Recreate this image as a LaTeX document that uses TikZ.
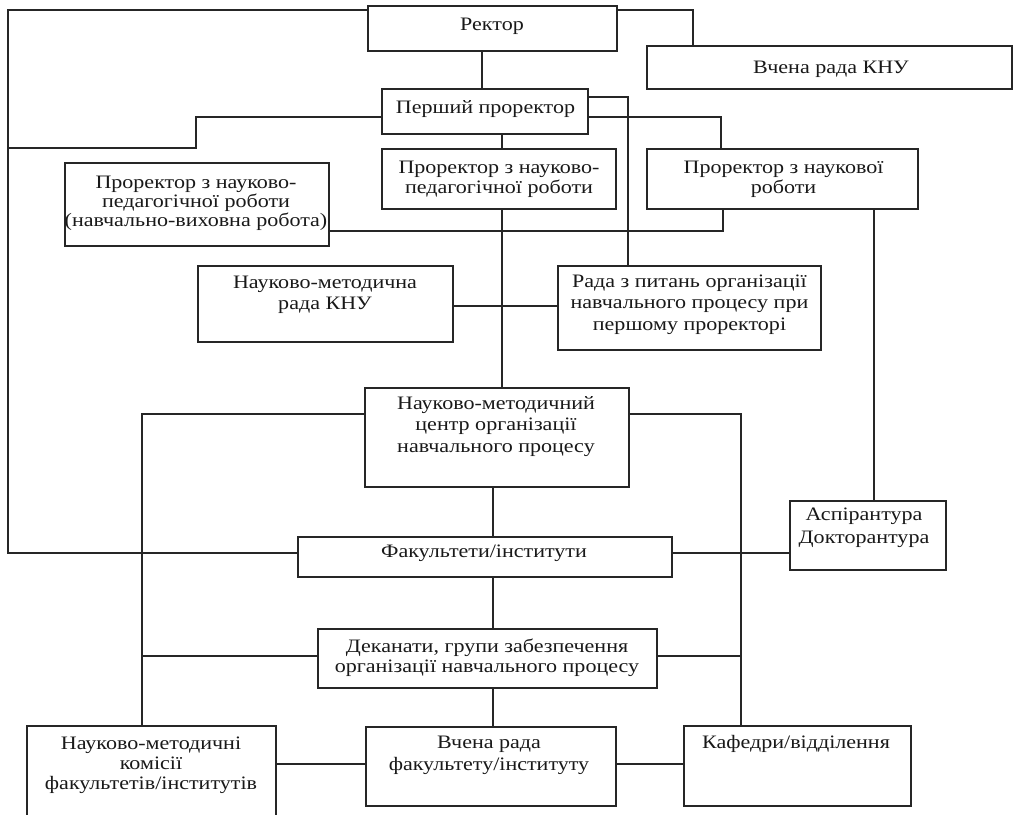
\documentclass[tikz,border=0pt]{standalone}
\usepackage{fontspec}
\setmainfont{Liberation Serif}[FakeStretch=1.16]
\begin{document}
\begin{tikzpicture}[x=1pt,y=-1pt,
  box/.style={draw=black!85, line width=1.2pt, outer sep=0pt, inner sep=0pt, anchor=north west, rectangle},
  lsp/.style={font=\fontsize{19}{#1}\selectfont},
  lsp/.default=21.5,
  txt/.style={align=center, inner sep=0pt, text=black!90, lsp},
  con/.style={draw=black!85, line width=1.2pt}]
\useasboundingbox (0,0) rectangle (1017,814);
\fill[white] (0,0) rectangle (1017,814);

% boxes
\node[box, minimum width=249pt, minimum height=45pt] (rect) at (368,6) {};
\node[box, minimum width=365pt, minimum height=43pt] (vrk) at (647,46) {};
\node[box, minimum width=206pt, minimum height=45pt] (p1) at (382,89) {};
\node[box, minimum width=234pt, minimum height=60pt] (pnp) at (382,149) {};
\node[box, minimum width=271pt, minimum height=60pt] (pn) at (647,149) {};
\node[box, minimum width=264pt, minimum height=83pt] (pl) at (65,163) {};
\node[box, minimum width=255pt, minimum height=76pt] (nmr) at (198,266) {};
\node[box, minimum width=263pt, minimum height=84pt] (rp) at (558,266) {};
\node[box, minimum width=264pt, minimum height=99pt] (nmc) at (365,388) {};
\node[box, minimum width=374pt, minimum height=40pt] (fak) at (298,537) {};
\node[box, minimum width=156pt, minimum height=69pt] (asp) at (790,501) {};
\node[box, minimum width=339pt, minimum height=59pt] (dek) at (318,629) {};
\node[box, minimum width=249pt, minimum height=104pt] (nmk) at (27,726) {};
\node[box, minimum width=250pt, minimum height=79pt] (vrf) at (366,727) {};
\node[box, minimum width=227pt, minimum height=80pt] (kaf) at (684,726) {};

% texts
\node[txt] (rectT) at (492,26) {Ректор};
\node[txt] (vrkT) at (831,69) {Вчена рада КНУ};
\node[txt] (p1T) at (485.5,109.5) {Перший проректор};
\node[txt, lsp=20] (pnpT) at (499,179) {Проректор з науково-\\педагогічної роботи};
\node[txt, lsp=20] (pnT) at (783.5,179) {Проректор з наукової\\роботи};
\node[txt, lsp=19] (plT) at (196,203) {Проректор з науково-\\педагогічної роботи\\(навчально-виховна робота)};
\node[txt, lsp=21.4] (nmrT) at (325,295) {Науково-методична\\рада КНУ};
\node[txt, lsp=21.3] (rpT) at (689.5,304.5) {Рада з питань організації\\навчального процесу при\\першому проректорі};
\node[txt, lsp=21.7] (nmcT) at (496,426.5) {Науково-методичний\\центр організації\\навчального процесу};
\node[txt] (fakT) at (484,553) {Факультети/інститути};
\node[txt, lsp=23.3] (aspT) at (864,528) {Аспірантура\\Докторантура};
\node[txt, lsp=20] (dekT) at (487,658) {Деканати, групи забезпечення\\організації навчального процесу};
\node[txt, lsp=20] (nmkT) at (151,765) {Науково-методичні\\комісії\\факультетів/інститутів};
\node[txt, lsp=21.7] (vrfT) at (489,755) {Вчена рада\\факультету/інституту};
\node[txt] (kafT) at (796,744) {Кафедри/відділення};

% bend points
\coordinate (k1) at (8,10);
\coordinate (k2) at (8,553);
\coordinate (k3) at (693,10);
\coordinate (k4) at (482,0);
\coordinate (k5) at (196,117);
\coordinate (k6) at (196,148);
\coordinate (k7) at (502,0);
\coordinate (k8) at (628,97);
\coordinate (k9) at (721,117);
\coordinate (k10) at (723,231);
\coordinate (k11) at (0,306);
\coordinate (k12) at (874,0);
\coordinate (k13) at (142,414);
\coordinate (k14) at (741,414);
\coordinate (k15) at (493,0);
\coordinate (k16) at (0,656);
\coordinate (k17) at (0,764);

% connectors
\draw[con] (rect.west |- k1) -- (k1) -- (k2) -- (fak.west |- k2);
\draw[con] (rect.east |- k3) -- (k3) -- (k3 |- vrk.north);
\draw[con] (k4 |- rect.south) -- (k4 |- p1.north);
\draw[con] (p1.west |- k5) -- (k5) -- (k6) -- (k1 |- k6);
\draw[con] (k7 |- p1.south) -- (k7 |- pnp.north);
\draw[con] (p1.east |- k8) -- (k8) -- (k8 |- rp.north);
\draw[con] (p1.east |- k9) -- (k9) -- (k9 |- pn.north);
\draw[con] (pl.east |- k10) -- (k10) -- (k10 |- pn.south);
\draw[con] (k7 |- pnp.south) -- (k7 |- nmc.north);
\draw[con] (nmr.east |- k11) -- (rp.west |- k11);
\draw[con] (k12 |- pn.south) -- (k12 |- asp.north);
\draw[con] (nmc.west |- k13) -- (k13) -- (k13 |- nmk.north);
\draw[con] (nmc.east |- k14) -- (k14) -- (k14 |- kaf.north);
\draw[con] (k15 |- nmc.south) -- (k15 |- fak.north);
\draw[con] (fak.east |- k2) -- (asp.west |- k2);
\draw[con] (k15 |- fak.south) -- (k15 |- dek.north);
\draw[con] (dek.west |- k16) -- (k13 |- k16);
\draw[con] (dek.east |- k16) -- (k14 |- k16);
\draw[con] (k15 |- dek.south) -- (k15 |- vrf.north);
\draw[con] (nmk.east |- k17) -- (vrf.west |- k17);
\draw[con] (vrf.east |- k17) -- (kaf.west |- k17);
\end{tikzpicture}
\end{document}
